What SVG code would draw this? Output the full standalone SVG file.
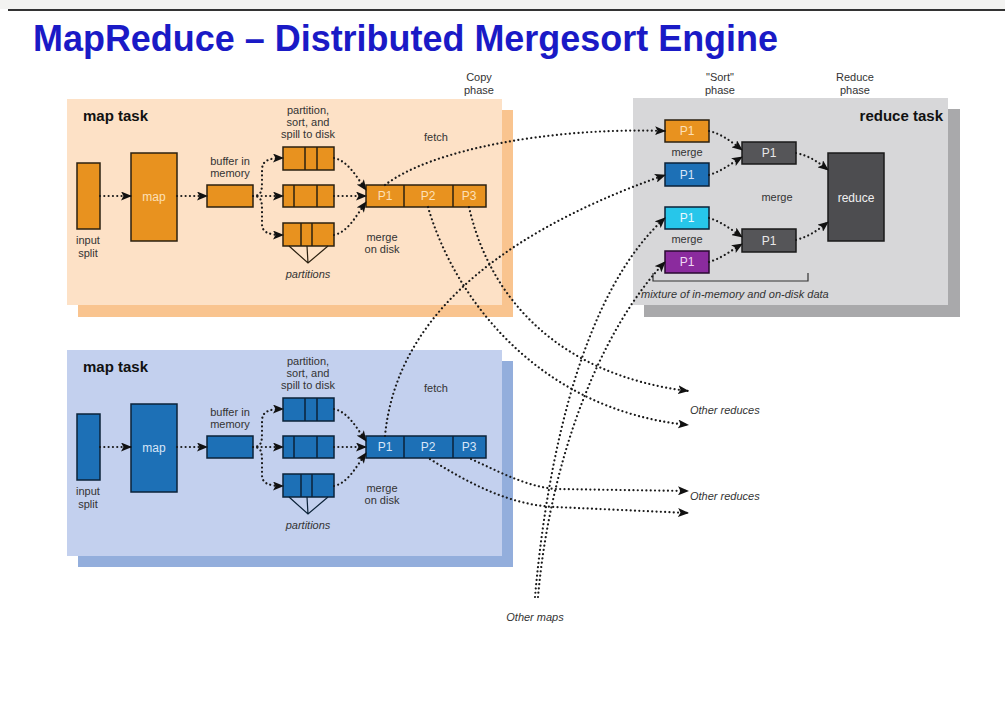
<svg xmlns="http://www.w3.org/2000/svg" width="1005" height="702" viewBox="0 0 1005 702">
<defs>
<marker id="ah" markerUnits="userSpaceOnUse" markerWidth="11" markerHeight="9" refX="10" refY="4.5" orient="auto">
<path d="M0,0 L11,4.5 L0,9 L2.5,4.5 z" fill="#111"/>
</marker>
<style>
.t{font-family:"Liberation Sans",Arial,sans-serif;fill:#333;font-size:11px;text-anchor:middle}
.ti{font-family:"Liberation Sans",Arial,sans-serif;fill:#333;font-size:11px;font-style:italic}
.hd{font-family:"Liberation Sans",Arial,sans-serif;fill:#111;font-size:15px;font-weight:bold}
.lb{font-family:"Liberation Sans",Arial,sans-serif;font-size:12px;text-anchor:middle}
.dot{fill:none;stroke:#1a1a1a;stroke-width:2.2;stroke-dasharray:0.01 4.3;stroke-linecap:round}
.dota{fill:none;stroke:#1a1a1a;stroke-width:2.2;stroke-dasharray:0.01 4.3;stroke-linecap:round;marker-end:url(#ah)}
.ob{fill:#e8921f;stroke:#2b2010;stroke-width:1.5}
.bb{fill:#1d70b6;stroke:#0b2238;stroke-width:1.5}
.ln{stroke:#2b2010;stroke-width:1.5}
.lnb{stroke:#0b2238;stroke-width:1.5}
</style>
</defs>
<rect x="0" y="0" width="1005" height="702" fill="#ffffff"/>
<rect x="0" y="0" width="1005" height="9" fill="#f3f3f1"/>
<rect x="8" y="9" width="997" height="2" fill="#333"/>
<text x="33" y="51" font-family="Liberation Sans, Arial, sans-serif" font-weight="bold" font-size="37" fill="#1a1ac6" textLength="745" lengthAdjust="spacingAndGlyphs">MapReduce – Distributed Mergesort Engine</text>

<!-- phase labels -->
<g id="phase-labels">
<text class="t" x="479" y="81">Copy</text>
<text class="t" x="479" y="94">phase</text>
<text class="t" x="720" y="81">"Sort"</text>
<text class="t" x="720" y="94">phase</text>
<text class="t" x="855" y="81">Reduce</text>
<text class="t" x="855" y="94">phase</text>
</g>

<!-- top map task -->
<g id="map-task-1">
<rect x="78" y="110" width="435" height="207" fill="#f9c48f"/>
<rect x="67" y="99" width="435" height="206" fill="#fde1c6"/>
<text class="hd" x="83" y="121">map task</text>
<rect class="ob" x="77" y="163" width="23" height="66"/>
<text class="t" x="88" y="244">input</text>
<text class="t" x="88" y="257">split</text>
<rect class="ob" x="131" y="153" width="46" height="88"/>
<text class="lb" x="154" y="201" fill="#fde0b8">map</text>
<text class="t" x="230" y="165">buffer in</text>
<text class="t" x="230" y="177">memory</text>
<rect class="ob" x="207" y="185" width="46" height="22"/>
<text class="t" x="308" y="114">partition,</text>
<text class="t" x="308" y="126">sort, and</text>
<text class="t" x="308" y="138">spill to disk</text>
<rect class="ob" x="283" y="147" width="51" height="23"/>
<line class="ln" x1="305" y1="147" x2="305" y2="170"/><line class="ln" x1="317" y1="147" x2="317" y2="170"/>
<rect class="ob" x="283" y="185" width="51" height="22"/>
<line class="ln" x1="294" y1="185" x2="294" y2="207"/><line class="ln" x1="317" y1="185" x2="317" y2="207"/>
<rect class="ob" x="283" y="223" width="51" height="23"/>
<line class="ln" x1="301" y1="223" x2="301" y2="246"/><line class="ln" x1="312" y1="223" x2="312" y2="246"/>
<path d="M289,246 L308,263 L328,246 M307,246 L308,263" stroke="#2b2010" stroke-width="1.2" fill="none"/>
<text class="ti" x="308" y="278" text-anchor="middle">partitions</text>
<rect class="ob" x="366" y="185" width="120" height="22"/>
<line class="ln" x1="404" y1="185" x2="404" y2="207"/><line class="ln" x1="453" y1="185" x2="453" y2="207"/>
<text class="lb" x="385" y="200" fill="#fde0b8" font-size="11">P1</text>
<text class="lb" x="428" y="200" fill="#fde0b8" font-size="11">P2</text>
<text class="lb" x="469" y="200" fill="#fde0b8" font-size="11">P3</text>
<text class="t" x="382" y="241">merge</text>
<text class="t" x="382" y="253">on disk</text>
<text class="t" x="436" y="141">fetch</text>
</g>

<!-- bottom map task -->
<g id="map-task-2" transform="translate(0,251)">
<rect x="78" y="110" width="435" height="206" fill="#93aedc"/>
<rect x="67" y="99" width="435" height="206" fill="#c3d0ee"/>
<text class="hd" x="83" y="121">map task</text>
<rect class="bb" x="77" y="163" width="23" height="66"/>
<text class="t" x="88" y="244">input</text>
<text class="t" x="88" y="257">split</text>
<rect class="bb" x="131" y="153" width="46" height="88"/>
<text class="lb" x="154" y="201" fill="#d8e6f8">map</text>
<text class="t" x="230" y="165">buffer in</text>
<text class="t" x="230" y="177">memory</text>
<rect class="bb" x="207" y="185" width="46" height="22"/>
<text class="t" x="308" y="114">partition,</text>
<text class="t" x="308" y="126">sort, and</text>
<text class="t" x="308" y="138">spill to disk</text>
<rect class="bb" x="283" y="147" width="51" height="23"/>
<line class="lnb" x1="305" y1="147" x2="305" y2="170"/><line class="lnb" x1="317" y1="147" x2="317" y2="170"/>
<rect class="bb" x="283" y="185" width="51" height="22"/>
<line class="lnb" x1="294" y1="185" x2="294" y2="207"/><line class="lnb" x1="317" y1="185" x2="317" y2="207"/>
<rect class="bb" x="283" y="223" width="51" height="23"/>
<line class="lnb" x1="301" y1="223" x2="301" y2="246"/><line class="lnb" x1="312" y1="223" x2="312" y2="246"/>
<path d="M289,246 L308,263 L328,246 M307,246 L308,263" stroke="#0b2238" stroke-width="1.2" fill="none"/>
<text class="ti" x="308" y="278" text-anchor="middle">partitions</text>
<rect class="bb" x="366" y="185" width="120" height="22"/>
<line class="lnb" x1="404" y1="185" x2="404" y2="207"/><line class="lnb" x1="453" y1="185" x2="453" y2="207"/>
<text class="lb" x="385" y="200" fill="#d8e6f8" font-size="11">P1</text>
<text class="lb" x="428" y="200" fill="#d8e6f8" font-size="11">P2</text>
<text class="lb" x="469" y="200" fill="#d8e6f8" font-size="11">P3</text>
<text class="t" x="382" y="241">merge</text>
<text class="t" x="382" y="253">on disk</text>
<text class="t" x="436" y="141">fetch</text>
</g>

<!-- reduce task -->
<g id="reduce-task">
<rect x="644" y="109" width="316" height="208" fill="#a9a9ab"/>
<rect x="633" y="98" width="315" height="207" fill="#d7d7d9"/>
<text class="hd" x="943" y="121" text-anchor="end">reduce task</text>
<rect x="665" y="120" width="44" height="22" fill="#e8921f" stroke="#2b2010" stroke-width="1.5"/>
<text class="lb" x="687" y="135" fill="#fde0b8" font-size="11">P1</text>
<text class="t" x="687" y="156">merge</text>
<rect x="665" y="163" width="44" height="23" fill="#1d70b6" stroke="#0b2238" stroke-width="1.5"/>
<text class="lb" x="687" y="179" fill="#d8e6f8" font-size="11">P1</text>
<rect x="665" y="207" width="44" height="22" fill="#27c6ea" stroke="#0b2238" stroke-width="1.5"/>
<text class="lb" x="687" y="222" fill="#e6f8ff" font-size="11">P1</text>
<text class="t" x="687" y="243">merge</text>
<rect x="665" y="251" width="44" height="22" fill="#8b2b9e" stroke="#2a0a30" stroke-width="1.5"/>
<text class="lb" x="687" y="266" fill="#f0d8f4" font-size="11">P1</text>
<rect x="742" y="142" width="54" height="22" fill="#555558" stroke="#1a1a1a" stroke-width="1.5"/>
<text class="lb" x="769" y="157" fill="#e8e8e8" font-size="11">P1</text>
<text class="t" x="777" y="201">merge</text>
<rect x="742" y="229" width="54" height="23" fill="#555558" stroke="#1a1a1a" stroke-width="1.5"/>
<text class="lb" x="769" y="245" fill="#e8e8e8" font-size="11">P1</text>
<rect x="828" y="153" width="56" height="88" fill="#4d4d50" stroke="#1a1a1a" stroke-width="1.5"/>
<text class="lb" x="856" y="202" fill="#f0f0f0" font-size="14">reduce</text>
<path d="M653,273 L653,281 L808,281 L808,273" fill="none" stroke="#333" stroke-width="1.2"/>
<text class="ti" x="641" y="298">mixture of in-memory and on-disk data</text>
</g>

<g id="labels-other">
<text class="ti" x="690" y="414">Other reduces</text>
<text class="ti" x="690" y="500">Other reduces</text>
<text class="ti" x="535" y="621" text-anchor="middle">Other maps</text>
</g>

<!-- connectors -->
<g id="connectors">
<path class="dota" d="M100,196 L131,196"/>
<path class="dota" d="M177,196 L207,196"/>
<path class="dota" d="M253,196 L283,196"/>
<path class="dota" d="M253,196 C262,196 262,190 262,180 L262,170 C262,161 268,158 283,158"/>
<path class="dota" d="M253,196 C262,196 262,202 262,212 L262,224 C262,232 268,235 283,235"/>
<path class="dota" d="M334,158 C348,161 356,176 366,190"/>
<path class="dota" d="M334,196 L366,196"/>
<path class="dota" d="M334,235 C348,232 356,216 366,202"/>
<path class="dota" d="M100,447 L131,447"/>
<path class="dota" d="M177,447 L207,447"/>
<path class="dota" d="M253,447 L283,447"/>
<path class="dota" d="M253,447 C262,447 262,441 262,431 L262,421 C262,412 268,409 283,409"/>
<path class="dota" d="M253,447 C262,447 262,453 262,463 L262,475 C262,483 268,486 283,486"/>
<path class="dota" d="M334,409 C348,412 356,427 366,441"/>
<path class="dota" d="M334,447 L366,447"/>
<path class="dota" d="M334,486 C348,483 356,467 366,453"/>
<path class="dota" d="M385,185 C430,150 550,127 665,131"/>
<path class="dota" d="M385,436 C395,330 480,240 665,175"/>
<path class="dota" d="M535,597 C548,450 585,290 665,218"/>
<path class="dota" d="M538,597 C550,460 600,330 665,262"/>
<path class="dota" d="M428,207 C455,300 540,410 688,425"/>
<path class="dota" d="M469,207 C490,300 560,375 688,391"/>
<path class="dota" d="M471,459 C500,472 525,486 555,489 L688,491"/>
<path class="dota" d="M430,459 C470,484 510,505 555,507 L688,513"/>
<path class="dota" d="M709,131 C722,134 732,142 742,150"/>
<path class="dota" d="M709,175 C722,171 732,163 742,157"/>
<path class="dota" d="M709,218 C722,222 732,230 742,237"/>
<path class="dota" d="M709,262 C722,258 732,250 742,244"/>
<path class="dota" d="M796,153 C810,156 818,162 828,170"/>
<path class="dota" d="M796,240 C810,236 818,230 828,222"/>
</g>
</svg>
